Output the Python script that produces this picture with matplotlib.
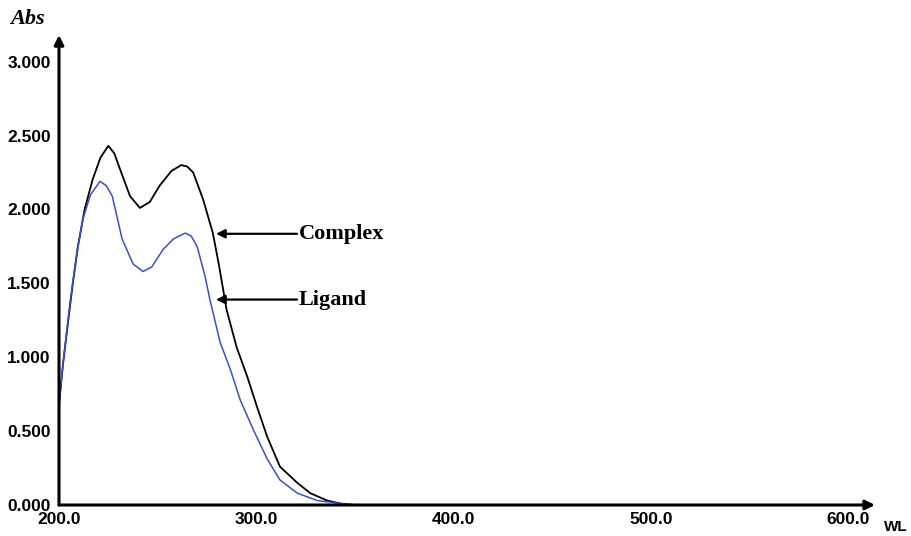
import matplotlib
matplotlib.use("Agg")
import matplotlib.pyplot as plt

# wavelength (nm) / absorbance
complex_wl = [200, 202, 204.6, 207, 209.6, 213, 217, 221, 225, 228, 231, 236, 241,
              246, 251, 257, 262, 265, 268, 273, 278, 281, 285, 290, 295.4, 300.5,
              305.6, 312, 320.8, 327.4, 336, 342.6, 350, 400, 500, 600]
complex_abs = [0.68, 0.95, 1.24, 1.50, 1.75, 2.00, 2.20, 2.35, 2.43, 2.38, 2.27, 2.09, 2.01,
               2.05, 2.16, 2.26, 2.30, 2.29, 2.25, 2.07, 1.84, 1.63, 1.32, 1.07, 0.87, 0.66,
               0.46, 0.26, 0.15, 0.08, 0.03, 0.01, 0.0, 0.0, 0.0, 0.0]

ligand_wl = [200, 202, 205.6, 209, 212, 216, 220.8, 224, 227, 232, 237.6, 242.6, 247,
             252.8, 258, 264, 267, 270, 274, 276.5, 281.7, 286.8, 291.9, 298.5, 305.6,
             312, 320.8, 331, 342.6, 350, 400, 500, 600]
ligand_abs = [0.68, 0.95, 1.37, 1.70, 1.93, 2.10, 2.19, 2.16, 2.09, 1.80, 1.63, 1.58, 1.61,
              1.73, 1.80, 1.84, 1.82, 1.75, 1.55, 1.39, 1.10, 0.92, 0.71, 0.51, 0.31,
              0.17, 0.08, 0.03, 0.01, 0.0, 0.0, 0.0, 0.0]

x_ticks = [200, 300, 400, 500, 600]
y_ticks = [0.0, 0.5, 1.0, 1.5, 2.0, 2.5, 3.0]

fig = plt.figure(figsize=(9.11, 5.36), dpi=100)
ax = fig.add_axes([59 / 911, 31 / 536, 816 / 911, 470 / 536])
ax.set_xlim(200, 613.7)
ax.set_ylim(0, 3.18)

ax.plot(complex_wl, complex_abs, color='black', lw=1.3)
ax.plot(ligand_wl, ligand_abs, color='#3d4fc8', lw=1.1)

for s in ax.spines.values():
    s.set_visible(False)

# axis arrows
ax.annotate('', xy=(1.0, 0), xytext=(0, 0), xycoords='axes fraction',
            arrowprops=dict(arrowstyle='-|>', color='black', lw=2.2,
                            shrinkA=0, shrinkB=0, mutation_scale=14))
ax.annotate('', xy=(0, 1.0), xytext=(0, 0), xycoords='axes fraction',
            arrowprops=dict(arrowstyle='-|>', color='black', lw=2.2,
                            shrinkA=0, shrinkB=0, mutation_scale=14))

ax.set_xticks(x_ticks)
ax.set_xticklabels([f'{v:.1f}' for v in x_ticks])
ax.set_yticks(y_ticks)
ax.set_yticklabels([f'{v:.3f}' for v in y_ticks])
ax.tick_params(length=0, labelsize=12.5)
ax.tick_params(axis='y', pad=6)
ax.tick_params(axis='x', pad=5)
for lab in ax.get_xticklabels() + ax.get_yticklabels():
    lab.set_fontweight('bold')
    lab.set_family('Liberation Sans')

# curve labels
for label, y in [('Complex', 1.835), ('Ligand', 1.39)]:
    ax.annotate('', xy=(279.6, y), xytext=(320.7, y),
                arrowprops=dict(arrowstyle='-|>', color='black', lw=1.6,
                                shrinkA=0, shrinkB=0, mutation_scale=13))
    ax.text(321.5, y, label, ha='left', va='center', fontsize=16,
            fontweight='bold', family='Liberation Serif')

fig.text(10 / 911, 1 - 19 / 536, 'Abs', ha='left', va='center', fontsize=16,
         fontweight='bold', style='italic', family='Liberation Serif')
fig.text(896 / 911, 1 - 527 / 536, 'WL', ha='center', va='center', fontsize=11,
         fontweight='bold', family='Liberation Sans')

fig.savefig('out.png', dpi=100)
